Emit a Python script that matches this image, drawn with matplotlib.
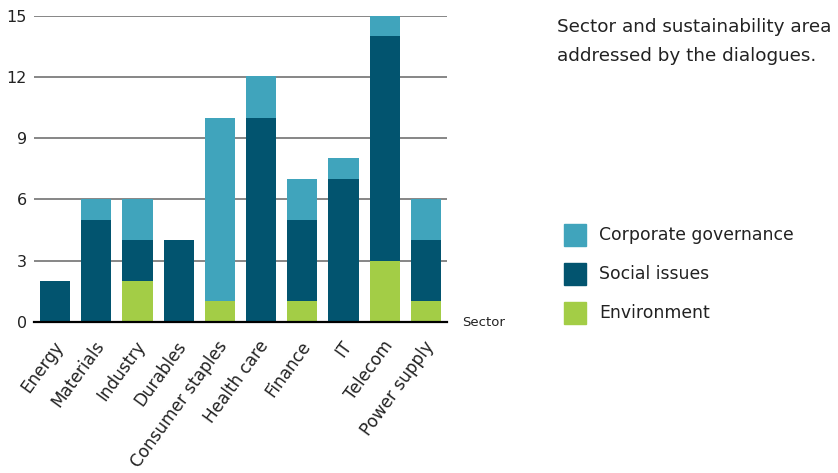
import matplotlib
matplotlib.use("Agg")
import matplotlib.pyplot as plt
import matplotlib.transforms as mtransforms
from matplotlib.patches import Rectangle
import numpy as np

sectors = ["Energy", "Materials", "Industry", "Durables", "Consumer staples",
           "Health care", "Finance", "IT", "Telecom", "Power supply"]
environment = [0, 0, 2, 0, 1, 0, 1, 0, 3, 1]
social = [2, 5, 2, 4, 0, 10, 4, 7, 11, 3]
governance = [0, 1, 2, 0, 9, 2.08, 2, 1.03, 1, 2]
yticks = [0, 3, 6, 9, 12, 15]

c_env = "#a3cd46"
c_soc = "#02546f"
c_gov = "#40a4bc"
txt = "#222222"

plt.rcParams['font.family'] = ['DejaVu Sans']
fig = plt.figure(figsize=(8.38, 4.73), dpi=100)
ax = fig.add_axes([34/838, 1-321.7/473, (447-34)/838, (321.7-16)/473])

x = np.arange(len(sectors))
env = np.array(environment, float)
soc = np.array(social, float)
gov = np.array(governance, float)
w = 0.73
ax.bar(x, env, w, color=c_env, zorder=3, label="Environment")
ax.bar(x, soc, w, bottom=env, color=c_soc, zorder=3, label="Social issues")
ax.bar(x, gov, w, bottom=env+soc, color=c_gov, zorder=3, label="Corporate governance")

ax.set_xlim(-0.51, 9.51)
ax.set_ylim(0, 15)
ax.set_yticks(yticks)
ax.set_yticklabels([str(t) for t in yticks], fontsize=11.5, color=txt)
for t in yticks[1:]:
    ax.axhline(t, color="#666666", lw=1.1, zorder=1)
ax.axhline(0, color="black", lw=1.6, zorder=4, clip_on=False)
for s in ax.spines.values():
    s.set_visible(False)
ax.tick_params(axis='y', length=0, pad=5)
ax.tick_params(axis='x', length=0, pad=2)
ax.set_xticks(x)
ax.set_xticklabels(sectors, rotation=54, ha='right', rotation_mode='anchor',
                   fontsize=12.2, color=txt)
offset = mtransforms.ScaledTranslation(-3/100, -13/100, fig.dpi_scale_trans)
for lab in ax.get_xticklabels():
    lab.set_transform(lab.get_transform() + offset)

fig.text(462/838, 1-322/473, "Sector", fontsize=9.5, color=txt, va='center', ha='left')

fig.text(557/838, 1-32/473, "Sector and sustainability area",
         fontsize=13.2, color=txt, va='baseline', ha='left')
fig.text(557/838, 1-61/473, "addressed by the dialogues.",
         fontsize=13.2, color=txt, va='baseline', ha='left')

items = [("Corporate governance", c_gov), ("Social issues", c_soc), ("Environment", c_env)]
for i, (lab, col) in enumerate(items):
    yc = 235 + i*39
    fig.patches.append(Rectangle((564/838, 1-(yc+11)/473), 22/838, 22/473,
                                 transform=fig.transFigure, color=col, figure=fig))
    fig.text(599/838, 1-yc/473, lab, fontsize=12.4, color=txt, va='center', ha='left')

fig.savefig("out.png", dpi=100)
